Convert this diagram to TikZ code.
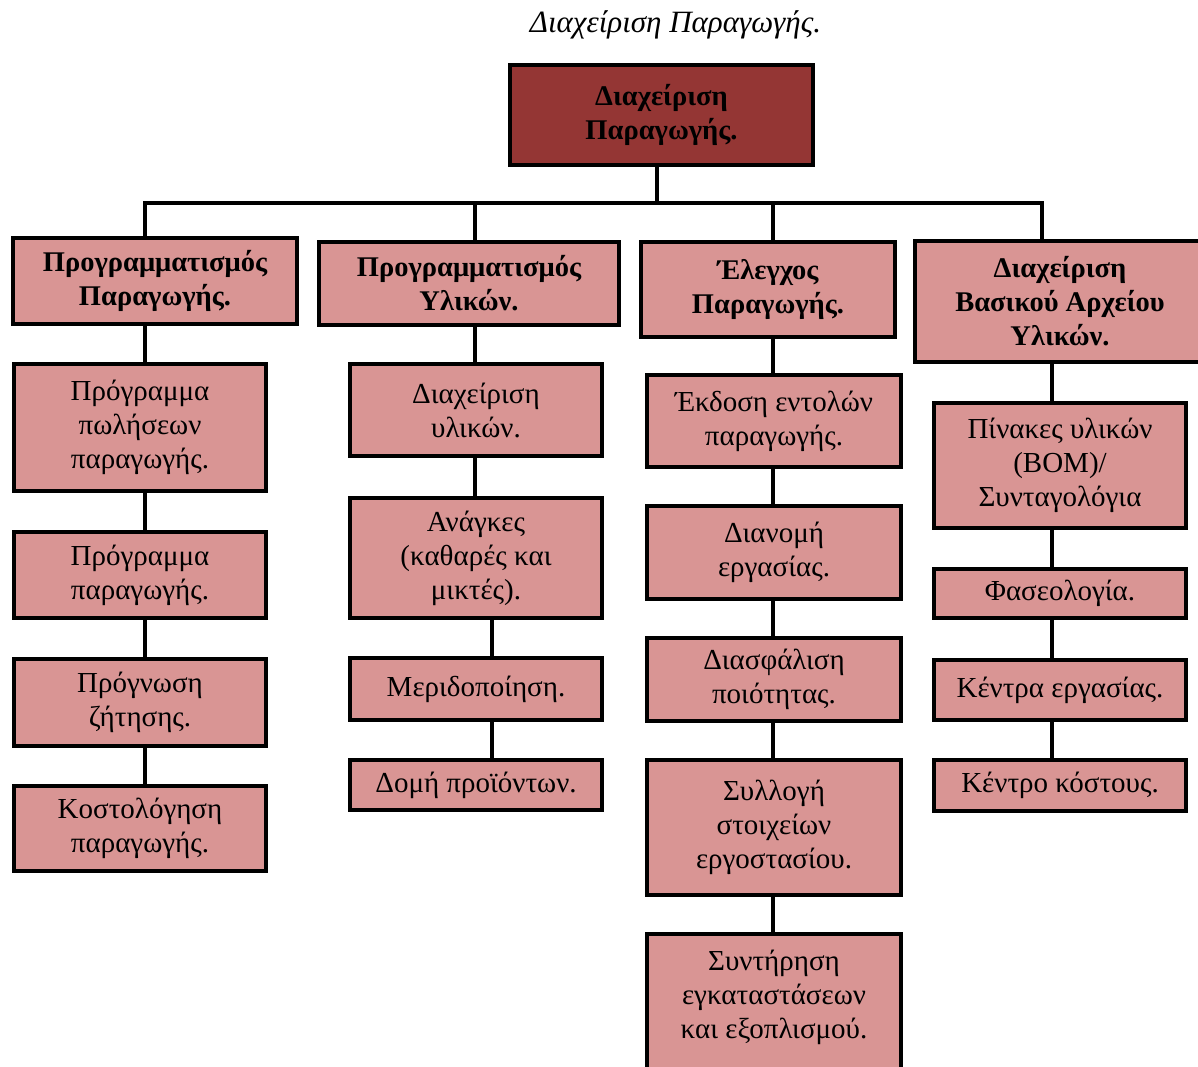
\documentclass[tikz,border=0pt]{standalone}
\usepackage{fontspec}
\setmainfont{Liberation Serif}
\definecolor{darkred}{HTML}{943634}
\definecolor{pinkc}{HTML}{D99594}
\tikzset{
  box/.style={draw=black, line width=4pt, fill=pinkc, align=center, inner sep=0pt,
    font=\fontsize{29}{34}\selectfont},
  head/.style={box, font=\fontsize{28.5}{34}\selectfont\bfseries},
  conn/.style={draw=black, line width=4pt},
}
\begin{document}
\begin{tikzpicture}[x=1pt,y=-1pt]
\useasboundingbox (0,0) rectangle (1198,1066);
\clip (0,0) rectangle (1198,1066);
\node[font=\fontsize{31}{34}\selectfont\itshape] (title) at (675.5,25) {Διαχείριση Παραγωγής.};
% top
\node[head, fill=darkred, minimum width=303pt, minimum height=100pt] (top) at (661.5,115) {Διαχείριση\\Παραγωγής.};
% level 1
\node[head, minimum width=284pt, minimum height=86pt] (A) at (155,281) {Προγραμματισμός\\Παραγωγής.};
\node[head, minimum width=300pt, minimum height=83pt] (B) at (469,283.5) {Προγραμματισμός\\Υλικών.};
\node[head, minimum width=254pt, minimum height=95pt] (C) at (768,289.5) {Έλεγχος\\Παραγωγής.};
\node[head, minimum width=290pt, minimum height=121pt] (D) at (1060,301.5) {Διαχείριση\\Βασικού Αρχείου\\Υλικών.};
% column A
\node[box, minimum width=252pt, minimum height=127pt] (A1) at (140,427.5) {Πρόγραμμα\\πωλήσεων\\παραγωγής.};
\node[box, minimum width=252pt, minimum height=86pt] (A2) at (140,575) {Πρόγραμμα\\παραγωγής.};
\node[box, minimum width=252pt, minimum height=87pt] (A3) at (140,702.5) {Πρόγνωση\\ζήτησης.};
\node[box, minimum width=252pt, minimum height=85pt] (A4) at (140,828.5) {Κοστολόγηση\\παραγωγής.};
% column B
\node[box, minimum width=252pt, minimum height=92pt] (B1) at (476,410) {Διαχείριση\\υλικών.};
\node[box, minimum width=252pt, minimum height=120pt] (B2) at (476,558) {Ανάγκες\\(καθαρές και\\μικτές).};
\node[box, minimum width=252pt, minimum height=62pt] (B3) at (476,689) {Μεριδοποίηση.};
\node[box, minimum width=252pt, minimum height=50pt] (B4) at (476,785) {Δομή προϊόντων.};
% column C
\node[box, minimum width=254pt, minimum height=92pt] (C1) at (774,421) {Έκδοση εντολών\\παραγωγής.};
\node[box, minimum width=254pt, minimum height=93pt] (C2) at (774,552.5) {Διανομή\\εργασίας.};
\node[box, minimum width=254pt, minimum height=83pt] (C3) at (774,679.5) {Διασφάλιση\\ποιότητας.};
\node[box, minimum width=254pt, minimum height=135pt] (C4) at (774,827.5) {Συλλογή\\στοιχείων\\εργοστασίου.};
\node[box, minimum width=254pt, minimum height=139pt] (C5) at (774,1003.5) {};
\node[font=\fontsize{29}{34}\selectfont, align=center, inner sep=0pt] (C5t) at (774,997) {Συντήρηση\\εγκαταστάσεων\\και εξοπλισμού.};
% column D
\node[box, minimum width=252pt, minimum height=125pt] (D1) at (1060,465.5) {Πίνακες υλικών\\(BOM)/\\Συνταγολόγια};
\node[box, minimum width=252pt, minimum height=49pt] (D2) at (1060,593.5) {Φασεολογία.};
\node[box, minimum width=252pt, minimum height=60pt] (D3) at (1060,690) {Κέντρα εργασίας.};
\node[box, minimum width=252pt, minimum height=51pt] (D4) at (1060,785.5) {Κέντρο κόστους.};
% connector coordinates
\coordinate (bus) at (657,203);
\coordinate (busL) at (145,203);
\coordinate (busB) at (475,203);
\coordinate (busC) at (773,203);
\coordinate (busR) at (1042,203);
\coordinate (xa) at (145,0);
\coordinate (xb) at (475,0);
\coordinate (xb2) at (492,0);
\coordinate (xc) at (773,0);
\coordinate (xd) at (1052,0);
% connectors
\path[conn] (top.south -| bus) -- (bus);
\path[conn] ([xshift=-2pt]busL) -- ([xshift=2pt]busR);
\path[conn] ([yshift=-2pt]busL) -- (A.north -| busL);
\path[conn] (busB) -- (B.north -| busB);
\path[conn] (busC) -- (C.north -| busC);
\path[conn] ([yshift=-2pt]busR) -- (D.north -| busR);
\path[conn] (A.south -| xa) -- (A1.north -| xa);
\path[conn] (A1.south -| xa) -- (A2.north -| xa);
\path[conn] (A2.south -| xa) -- (A3.north -| xa);
\path[conn] (A3.south -| xa) -- (A4.north -| xa);
\path[conn] (B.south -| xb) -- (B1.north -| xb);
\path[conn] (B1.south -| xb) -- (B2.north -| xb);
\path[conn] (B2.south -| xb2) -- (B3.north -| xb2);
\path[conn] (B3.south -| xb2) -- (B4.north -| xb2);
\path[conn] (C.south -| xc) -- (C1.north -| xc);
\path[conn] (C1.south -| xc) -- (C2.north -| xc);
\path[conn] (C2.south -| xc) -- (C3.north -| xc);
\path[conn] (C3.south -| xc) -- (C4.north -| xc);
\path[conn] (C4.south -| xc) -- (C5.north -| xc);
\path[conn] (D.south -| xd) -- (D1.north -| xd);
\path[conn] (D1.south -| xd) -- (D2.north -| xd);
\path[conn] (D2.south -| xd) -- (D3.north -| xd);
\path[conn] (D3.south -| xd) -- (D4.north -| xd);
\end{tikzpicture}
\end{document}
